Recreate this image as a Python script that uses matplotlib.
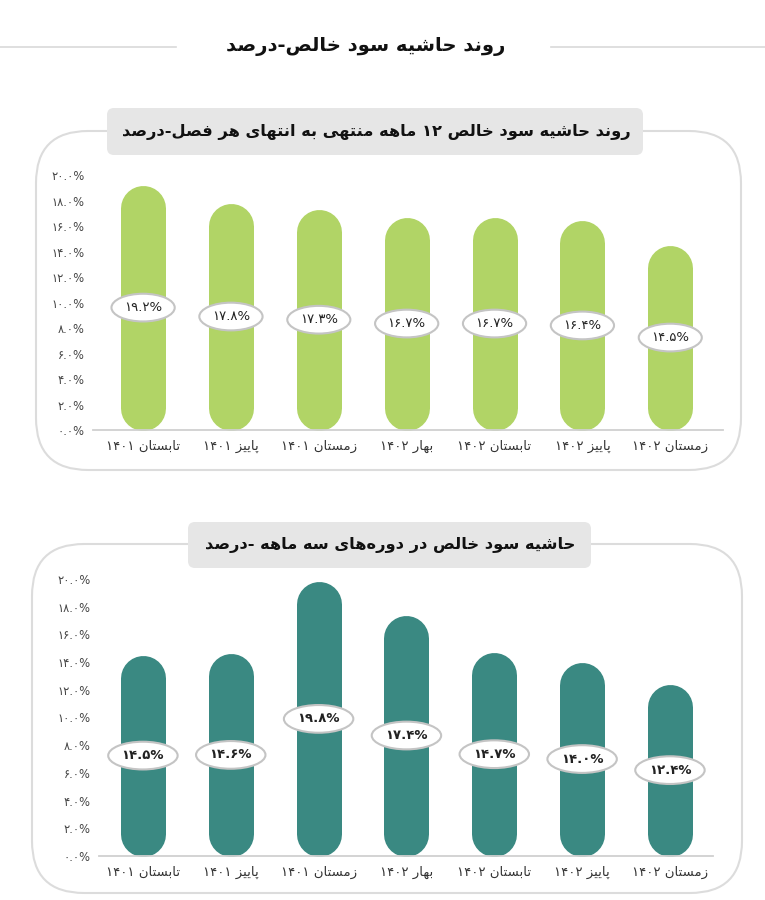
import matplotlib
matplotlib.use("Agg")
import matplotlib.pyplot as plt
from matplotlib.patches import FancyBboxPatch

# ---------------- data ----------------
categories = ["تابستان ۱۴۰۱", "پاییز ۱۴۰۱", "زمستان ۱۴۰۱", "بهار ۱۴۰۲",
              "تابستان ۱۴۰۲", "پاییز ۱۴۰۲", "زمستان ۱۴۰۲"]
ttm_margin = [19.2, 17.8, 17.3, 16.7, 16.7, 16.4, 14.5]
quarterly_margin = [14.5, 14.6, 19.8, 17.4, 14.7, 14.0, 12.4]
y_ticks = [0, 2, 4, 6, 8, 10, 12, 14, 16, 18, 20]

main_title = "روند حاشیه سود خالص-درصد"
top_title = "روند حاشیه سود خالص ۱۲ ماهه منتهی به انتهای هر فصل-درصد"
bottom_title = "حاشیه سود خالص در دوره\u200cهای سه ماهه -درصد"

# ---------------- simple Persian shaping ----------------
FORMS = {
    'ا': ('\uFE8D', '\uFE8E'), 'د': ('\uFEA9', '\uFEAA'), 'ر': ('\uFEAD', '\uFEAE'),
    'ز': ('\uFEAF', '\uFEB0'), 'و': ('\uFEED', '\uFEEE'),
    'ب': ('\uFE8F', '\uFE90', '\uFE91', '\uFE92'), 'پ': ('\uFB56', '\uFB57', '\uFB58', '\uFB59'),
    'ت': ('\uFE95', '\uFE96', '\uFE97', '\uFE98'), 'ح': ('\uFEA1', '\uFEA2', '\uFEA3', '\uFEA4'),
    'خ': ('\uFEA5', '\uFEA6', '\uFEA7', '\uFEA8'), 'س': ('\uFEB1', '\uFEB2', '\uFEB3', '\uFEB4'),
    'ش': ('\uFEB5', '\uFEB6', '\uFEB7', '\uFEB8'), 'ص': ('\uFEB9', '\uFEBA', '\uFEBB', '\uFEBC'),
    'ف': ('\uFED1', '\uFED2', '\uFED3', '\uFED4'), 'ل': ('\uFEDD', '\uFEDE', '\uFEDF', '\uFEE0'),
    'م': ('\uFEE1', '\uFEE2', '\uFEE3', '\uFEE4'), 'ن': ('\uFEE5', '\uFEE6', '\uFEE7', '\uFEE8'),
    'ه': ('\uFEE9', '\uFEEA', '\uFEEB', '\uFEEC'), 'ی': ('\uFBFC', '\uFBFD', '\uFBFE', '\uFBFF'),
}
NUMCH = set("۰۱۲۳۴۵۶۷۸۹0123456789.%")


def shape(s):
    out = []
    n = len(s)
    for i, c in enumerate(s):
        if c not in FORMS:
            out.append(c)
            continue
        f = FORMS[c]
        prev = s[i - 1] if i > 0 else None
        nxt = s[i + 1] if i < n - 1 else None
        jp = prev in FORMS and len(FORMS[prev]) == 4
        jn = len(f) == 4 and nxt in FORMS
        if jp and jn:
            out.append(f[3])
        elif jp:
            out.append(f[1])
        elif jn:
            out.append(f[2])
        else:
            out.append(f[0])
    return ''.join(out).replace('\u200c', '')


def fa(s):
    s = shape(s)
    tokens = []
    for c in s:
        isnum = c in NUMCH
        if tokens and tokens[-1][0] == isnum:
            tokens[-1][1] += c
        else:
            tokens.append([isnum, c])
    tokens.reverse()
    return ''.join(t if isnum else t[::-1] for isnum, t in tokens)


DIG = str.maketrans("0123456789", "۰۱۲۳۴۵۶۷۸۹")


def pnum(v, dec=1):
    return (f"{v:.{dec}f}%").translate(DIG)


FONT = ['DejaVu Sans']
plt.rcParams['font.family'] = FONT

W, H = 765, 900
fig = plt.figure(figsize=(W / 100, H / 100), dpi=100)
fig.patch.set_facecolor('white')

# background axes in pixel coordinates for decorations
bg = fig.add_axes([0, 0, 1, 1], zorder=0)
bg.set_xlim(0, W)
bg.set_ylim(H, 0)
bg.axis('off')

line_c = '#d9d9d9'
bg.plot([0, 176], [47, 47], color=line_c, lw=1.2)
bg.plot([551, W], [47, 47], color=line_c, lw=1.2)
bg.text(366, 47, fa(main_title), ha='center', va='center', fontsize=14,
        fontweight='bold', color='#111111')


def card(x0, y0, x1, y1, bx0, bx1, by0, by1, title, tx):
    bg.add_patch(FancyBboxPatch((x0, y0), x1 - x0, y1 - y0,
                                boxstyle="round,pad=0,rounding_size=52",
                                fc='none', ec='#dcdcdc', lw=1.5))
    bg.add_patch(FancyBboxPatch((bx0, by0), bx1 - bx0, by1 - by0,
                                boxstyle="round,pad=0,rounding_size=7",
                                fc='#e6e6e6', ec='none', zorder=3))
    bg.text(tx, (by0 + by1) / 2, fa(title), ha='center', va='center',
            fontsize=11.7, fontweight='bold', color='#111111', zorder=4)


card(36, 131, 741, 470, 107, 643, 108, 155, top_title, 376)
card(32, 544, 742, 893, 188, 591, 522, 568, bottom_title, 390)


def bar_chart(rect, xlim, values, color, label_bold):
    ax = fig.add_axes([rect[0] / W, 1 - rect[3] / H, (rect[2] - rect[0]) / W,
                       (rect[3] - rect[1]) / H], zorder=2)
    ax.patch.set_alpha(0)
    ax.set_xlim(*xlim)
    ax.set_ylim(0, 20)
    for s in ['top', 'right', 'left']:
        ax.spines[s].set_visible(False)
    ax.spines['bottom'].set_color('#d0d0d0')
    ax.spines['bottom'].set_linewidth(1.3)
    ax.set_yticks(y_ticks)
    ax.set_yticklabels([pnum(t) for t in y_ticks], fontsize=8.3, color='#444444')
    ax.set_xticks(range(len(categories)))
    ax.set_xticklabels([fa(c) for c in categories], fontsize=9.5, color='#333333')
    ax.tick_params(axis='y', length=0, pad=6)
    ax.tick_params(axis='x', length=0, pad=7)

    bar_px = 45
    ppu = ax.transData.transform((0, 1))[1] - ax.transData.transform((0, 0))[1]
    r = (bar_px / 2) / ppu
    xs = list(range(len(values)))
    ax.vlines(xs, [r] * len(values), [v - r for v in values], colors=color,
              linewidth=bar_px * 72 / 100, capstyle='round', clip_on=False, zorder=2)
    for x, v in zip(xs, values):
        ax.text(x, v / 2, pnum(v), ha='center', va='center', fontsize=9.5,
                fontweight='bold' if label_bold else 'normal', color='#222222',
                zorder=5,
                bbox=dict(boxstyle='ellipse,pad=0.25', fc='white', ec='#c4c4c4', lw=1.5))
    return ax


bar_chart((93, 175, 723, 430), (-0.57, 6.60), ttm_margin, '#b1d466', False)
bar_chart((99, 579, 713, 856), (-0.50, 6.49), quarterly_margin, '#3a8982', True)

fig.savefig('out.png', dpi=100, facecolor='white')
